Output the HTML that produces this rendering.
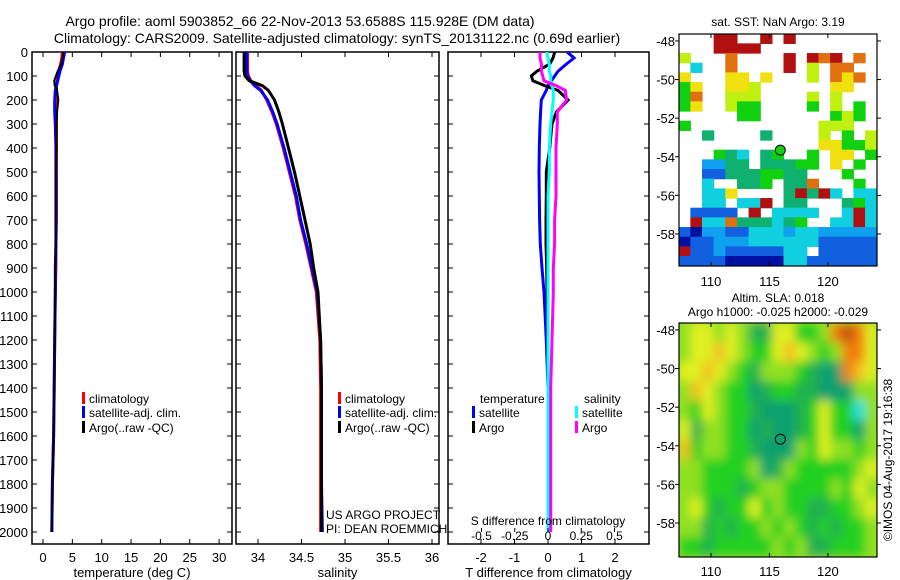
<!DOCTYPE html>
<html><head><meta charset="utf-8"><style>
body{margin:0;background:#fff;}
svg{display:block;font-family:"Liberation Sans",sans-serif;}
</style></head><body>
<svg id="c" width="900" height="580" xmlns="http://www.w3.org/2000/svg">
<defs>
<clipPath id="m1clip"><rect x="679" y="34" width="198" height="232"/></clipPath>
<clipPath id="m2clip"><rect x="679" y="323" width="198" height="234"/></clipPath>
<filter id="blur"><feGaussianBlur stdDeviation="5"/></filter>
</defs>
<text x="300" y="26" font-size="14" text-anchor="middle">Argo profile: aoml 5903852_66 22-Nov-2013 53.6588S 115.928E (DM data)</text>
<text x="337" y="43" font-size="14" text-anchor="middle">Climatology: CARS2009. Satellite-adjusted climatology: synTS_20131122.nc (0.69d earlier)</text>
<g id="g"></g>
</svg>
<script>
// ---- profile data ----
const depths = [0,25,50,80,100,120,140,160,200,250,300,400,500,600,700,800,900,1000,1200,1400,1600,1800,2000];
const tempClim = [3.3,3.2,3.0,2.7,2.5,2.4,2.3,2.3,2.3,2.3,2.3,2.3,2.3,2.3,2.3,2.2,2.2,2.1,2.0,1.9,1.8,1.6,1.5];
const tempSat  = [3.7,3.5,3.3,2.9,2.7,2.5,2.3,2.1,2.0,2.0,2.1,2.2,2.2,2.2,2.2,2.2,2.1,2.1,2.0,1.9,1.8,1.6,1.5];
const tempArgo = [3.4,3.3,3.1,2.5,2.2,1.9,2.0,2.4,2.6,2.4,2.3,2.3,2.2,2.2,2.2,2.2,2.1,2.1,2.0,1.9,1.8,1.6,1.5];
const salClim  = [33.88,33.88,33.88,33.88,33.89,33.92,33.98,34.04,34.10,34.16,34.21,34.29,34.36,34.43,34.48,34.55,34.61,34.67,34.71,34.72,34.72,34.72,34.72];
const salSat   = [33.87,33.87,33.87,33.87,33.88,33.91,33.96,34.03,34.11,34.17,34.22,34.30,34.37,34.44,34.49,34.56,34.62,34.68,34.72,34.73,34.73,34.73,34.74];
const salArgo  = [33.84,33.84,33.84,33.84,33.85,33.90,34.05,34.12,34.19,34.24,34.28,34.35,34.42,34.48,34.54,34.60,34.64,34.69,34.72,34.73,34.73,34.73,34.73];
const tDiffSat  = [0.57,0.78,0.55,0.30,0.20,0.10,0.0,-0.05,-0.2,-0.22,-0.24,-0.26,-0.27,-0.26,-0.25,-0.23,-0.18,-0.12,-0.05,0.0,0.02,0.04,0.06];
const tDiffArgo = [0.20,0.15,0.05,-0.33,-0.50,-0.45,-0.1,0.3,0.6,0.25,0.12,0.05,-0.05,-0.05,-0.06,-0.06,-0.04,-0.03,-0.01,0.0,0.0,0.0,0.0];
const sDiffSat  = [-0.01,0.0,0.01,0.01,0.02,0.02,0.03,0.04,0.04,0.03,0.02,0.01,0.01,0.0,0.0,0.0,0.0,0.0,0.0,0.0,0.0,0.0,0.0];
const sDiffArgo = [-0.06,-0.06,-0.05,-0.05,-0.04,-0.03,0.06,0.13,0.14,0.07,0.07,0.06,0.06,0.06,0.05,0.05,0.04,0.04,0.03,0.02,0.02,0.02,0.02];
const depthTicks = [0,100,200,300,400,500,600,700,800,900,1000,1100,1200,1300,1400,1500,1600,1700,1800,1900,2000];
const tempTicks = [0,5,10,15,20,25,30];
const salTicks = [34,34.5,35,35.5,36];
const tdTicks = [-2,-1,0,1,2];
const sdTicks = [-0.5,-0.25,0,0.25,0.5];
// ---- maps (lon 107.26..124.2, lat -47.64..-59.66) ----
const lonTicks = [110,115,120];
const latTicks = [-48,-50,-52,-54,-56,-58];
const sstPalette = ['#0010a0','#1060e0','#10a0f0','#10d0e0','#10b070','#10d010','#c0f010','#f0e010','#e07010','#b01010'];
const sstRows = [
"...99..9.9.......",
"...9999..........",
"6...8....9.989.8.",
".3..8....9.6.88..",
"7...77.7...6.878.",
"57..776......77..",
"58..666....6.6...",
"57..655....5.6.5.",
".....55......565.",
"5...........666..",
"..4....4....6.5.6",
"............77556",
"...543.45..5.77.5",
"..2244.44455.7.5.",
"..114445544...5..",
"..3..445.448...5.",
"..337....49493.33",
"..33.339.44...453",
".1111.9.3333..393",
".9338444345..3393",
"10221133323322222",
"01122233333311111",
"91121111133.11111",
"11110000033111111"];
const slaPalette = ['#20e0e0','#10a070','#20b050','#20d020','#90e020','#e0f020','#f0c020','#f08010','#c05010'];
const slaRows = [
"45545422553347875",
"45565433565434775",
"55654324443211765",
"46543312332211144",
"43543321112353304",
"52443312112353314",
"63443321114354434",
"44333341243333345",
"44333234433334354",
"45323353433223345",
"44232334343232334",
"33233333434223334"];
const argoLon = [115.928];
const argoLat = [-53.6588];

const NS='http://www.w3.org/2000/svg';
const G=document.getElementById('g');
function mk(t,a,p){const e=document.createElementNS(NS,t);for(const k in a)e.setAttribute(k,a[k]);(p||G).appendChild(e);return e;}
const yD = d => 52 + d*0.24;
const TOP=52, BOT=544;

function panel(name,x0,x1,xfn,ticks,fmt,xlabel,showY){
  const r=mk('rect',{x:x0,y:TOP,width:x1-x0,height:BOT-TOP,fill:'none',stroke:'#000','stroke-width':1.5});
  
  
  depthTicks.forEach(d=>{
    const y=yD(d);
    mk('line',{x1:x0,x2:x0+5,y1:y,y2:y,stroke:'#000'});
    mk('line',{x1:x1,x2:x1-5,y1:y,y2:y,stroke:'#000'});
    if(showY){const t=mk('text',{x:28,y:y+5,'font-size':13,'text-anchor':'end'});t.textContent=d;
      }
  });
  ticks.forEach(v=>{
    const x=xfn(v);
    mk('line',{x1:x,x2:x,y1:TOP,y2:TOP+5,stroke:'#000'});
    mk('line',{x1:x,x2:x,y1:BOT,y2:BOT-5,stroke:'#000'});
    const t=mk('text',{x:x,y:562,'font-size':13,'text-anchor':'middle'});t.textContent=fmt(v);
    
  });
  const l=mk('text',{x:(x0+x1)/2,y:577,'font-size':13,'text-anchor':'middle'});l.textContent=xlabel;
  
}
function line(vals,xfn,color,w,name){
  const pts=vals.map((v,i)=>xfn(v).toFixed(1)+','+yD(depths[i]).toFixed(1)).join(' ');
  const p=mk('polyline',{points:pts,fill:'none',stroke:color,'stroke-width':w});
  
  
}
function legendBar(x,y,color,label,name){
  mk('rect',{x:x,y:y-11,width:3,height:12,fill:color});
  const t=mk('text',{x:x+7,y:y,'font-size':12});t.textContent=label;
  
}
// temperature panel
const xT=v=>43+v*5.87;
panel('temperature-panel',32,232,xT,tempTicks,v=>v,'temperature (deg C)',true);
line(tempClim,xT,'#f00',3,'temp-climatology-line');
line(tempSat,xT,'#00f',3,'temp-satellite-line');
line(tempArgo,xT,'#000',2,'temp-argo-line');
legendBar(82,403,'#f00','climatology','legend-climatology');
legendBar(82,417,'#00f','satellite-adj. clim.','legend-satellite');
legendBar(82,432,'#000','Argo(..raw -QC)','legend-argo');
// salinity panel
const xS=v=>258+(v-34)*87;
panel('salinity-panel',236,439,xS,salTicks,v=>v,'salinity',false);
line(salClim,xS,'#f00',3,'sal-climatology-line');
line(salSat,xS,'#00f',3,'sal-satellite-line');
line(salArgo,xS,'#000',3,'sal-argo-line');
legendBar(338,403,'#f00','climatology','legend-sal-climatology');
legendBar(338,417,'#00f','satellite-adj. clim.','legend-sal-satellite');
legendBar(338,432,'#000','Argo(..raw -QC)','legend-sal-argo');
let t=mk('text',{x:326,y:519,'font-size':12});t.textContent='US ARGO PROJECT';

t=mk('text',{x:326,y:533,'font-size':12});t.textContent='PI: DEAN ROEMMICH';

// difference panel
const xTD=v=>548+v*33.5, xSD=v=>548+v*133;
panel('difference-panel',448,649,xTD,tdTicks,v=>v,'T difference from climatology',false);
line(tDiffSat,xTD,'#00f',3,'tdiff-satellite-line');
line(tDiffArgo,xTD,'#000',3,'tdiff-argo-line');
line(sDiffSat,xSD,'#0ff',3,'sdiff-satellite-line');
line(sDiffArgo,xSD,'#f0f',3,'sdiff-argo-line');
sdTicks.forEach(v=>{const x=xSD(v);mk('line',{x1:x,x2:x,y1:528,y2:532,stroke:'#000'});
  const tt=mk('text',{x:x,y:540,'font-size':12,'text-anchor':'middle'});tt.textContent=v;
  });
t=mk('text',{x:548,y:525,'font-size':12,'text-anchor':'middle'});t.textContent='S difference from climatology';

t=mk('text',{x:480,y:403,'font-size':12});t.textContent='temperature';

t=mk('text',{x:584,y:403,'font-size':12});t.textContent='salinity';

legendBar(472,417,'#00f','satellite','legend-t-satellite');
legendBar(472,432,'#000','Argo','legend-t-argo');
legendBar(575,417,'#0ff','satellite','legend-s-satellite');
legendBar(575,432,'#f0f','Argo','legend-s-argo');

// maps
function map(name,y0,h,rows,pal,blur,lat0,lat1,title1,title2,labelY){
  const x0=679,w=198,lon0=107.26,lon1=124.2;
  const mx=v=>x0+(v-lon0)/(lon1-lon0)*w, my=v=>y0+(lat0-v)/(lat0-lat1)*h;
  const g=mk('g',{'clip-path':'url(#'+name+'clip)'});
  
  
  const inner=blur?mk('g',{filter:'url(#blur)'},g):g;
  if(blur) mk('rect',{x:x0-10,y:y0-10,width:w+20,height:h+20,fill:pal[4]},inner);
  const nr=rows.length,nc=rows[0].length,cw=w/nc,ch=h/nr;
  rows.forEach((row,r)=>{for(let c=0;c<nc;c++){const k=row[c];if(k<'0'||k>'9')continue;
    const e=mk('rect',{x:x0+c*cw-0.3,y:y0+r*ch-0.3,width:cw+0.6,height:ch+0.6,fill:pal[+k]},inner);
    
    }});
  mk('rect',{x:x0,y:y0,width:w,height:h,fill:'none',stroke:'#000','stroke-width':1.2});
  argoLon.forEach((lo,i)=>{const c=mk('circle',{cx:mx(lo),cy:my(argoLat[i]),r:5,fill:blur?'none':pal[5],stroke:'#000','stroke-width':1});
    });
  lonTicks.forEach(v=>{const x=mx(v);mk('line',{x1:x,x2:x,y1:y0+h,y2:y0+h-4,stroke:'#000'});mk('line',{x1:x,x2:x,y1:y0,y2:y0+4,stroke:'#000'});
    const tt=mk('text',{x:x,y:labelY,'font-size':13,'text-anchor':'middle'});tt.textContent=v;
    });
  latTicks.forEach(v=>{const y=my(v);mk('line',{x1:x0,x2:x0-4,y1:y,y2:y,stroke:'#000'});mk('line',{x1:x0+w,x2:x0+w+4,y1:y,y2:y,stroke:'#000'});
    const tt=mk('text',{x:675,y:y+5,'font-size':13,'text-anchor':'end'});tt.textContent=v;
    });
  if(title1){const tt=mk('text',{x:778,y:y0-21,'font-size':12,'text-anchor':'middle'});tt.textContent=title1;
    }
  if(title2){const tt=mk('text',{x:778,y:y0-7,'font-size':12,'text-anchor':'middle'});tt.textContent=title2;
    }
}
map('m1',34,232,sstRows,sstPalette,false,-47.64,-59.66,null,null,286);
t=mk('text',{x:778,y:26,'font-size':12,'text-anchor':'middle'});t.textContent='sat. SST: NaN Argo: 3.19';

map('m2',323,234,slaRows,slaPalette,true,-47.64,-59.76,'Altim. SLA: 0.018','Argo h1000: -0.025 h2000: -0.029',576);
t=mk('text',{x:0,y:0,'font-size':12,'text-anchor':'middle',transform:'translate(892,460) rotate(-90)'});t.textContent='©IMOS 04-Aug-2017 19:16:38';

</script>
</body></html>
